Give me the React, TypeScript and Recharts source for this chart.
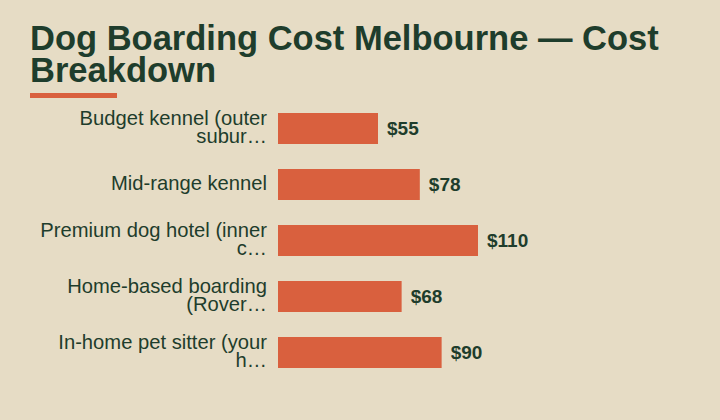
import React from 'react';
import { BarChart, Bar, XAxis, YAxis, LabelList } from 'recharts';

const categories = [
  'Budget kennel (outer subur…',
  'Mid-range kennel',
  'Premium dog hotel (inner c…',
  'Home-based boarding (Rover…',
  'In-home pet sitter (your h…',
];
const costs = [55, 78, 110, 68, 90];

const BG = '#e6dcc5';
const INK = '#1e3d2c';
const ACCENT = '#d9603e';

const data = categories.map((name, i) => ({ name, cost: costs[i] }));

// wrap a label into lines of at most maxChars characters
function wrap(label: string, maxChars = 24): string[] {
  const lines: string[] = [];
  let cur = '';
  label.split(' ').forEach((w) => {
    const next = cur ? cur + ' ' + w : w;
    if (next.length > maxChars && cur) {
      lines.push(cur);
      cur = w;
    } else {
      cur = next;
    }
  });
  if (cur) lines.push(cur);
  return lines;
}

const CategoryTick = ({ x, y, payload }: any) => {
  const lines = wrap(payload.value);
  const lh = 18;
  const start = y - ((lines.length - 1) * lh) / 2 + 6;
  return (
    <text
      x={x}
      y={start}
      textAnchor="end"
      fill={INK}
      fontSize={20.2}
      fontFamily="'Liberation Sans', Arial, sans-serif"
    >
      {lines.map((l, i) => (
        <tspan key={i} x={x} y={start + i * lh}>
          {l}
        </tspan>
      ))}
    </text>
  );
};

export default function App() {
  return (
    <div
      style={{
        position: 'fixed',
        left: 0,
        top: 0,
        width: 720,
        height: 420,
        background: BG,
        fontFamily: "'Liberation Sans', Arial, sans-serif",
      }}
    >
      <div
        style={{
          position: 'absolute',
          left: 30,
          top: 22,
          width: 680,
          fontSize: 34.5,
          lineHeight: '32px',
          fontWeight: 700,
          color: INK,
        }}
      >
        Dog Boarding Cost Melbourne — Cost Breakdown
      </div>
      <div
        style={{
          position: 'absolute',
          left: 30,
          top: 93,
          width: 87,
          height: 5,
          background: ACCENT,
        }}
      />
      <div style={{ position: 'absolute', left: 0, top: 0 }}>
        <BarChart
          width={720}
          height={420}
          data={data}
          layout="vertical"
          margin={{ top: 100, right: 222, bottom: 40, left: 0 }}
        >
          <XAxis type="number" domain={[0, 121]} hide />
          <YAxis
            type="category"
            dataKey="name"
            width={278}
            axisLine={false}
            tickLine={false}
            tickSize={0}
            tickMargin={11}
            interval={0}
            tick={<CategoryTick />}
          />
          <Bar dataKey="cost" fill={ACCENT} barSize={31} isAnimationActive={false}>
            <LabelList
              dataKey="cost"
              position="right"
              offset={9}
              formatter={(v: any) => `$${v}`}
              fill={INK}
              fontSize={19}
              fontWeight={700}
              fontFamily="'Liberation Sans', Arial, sans-serif"
            />
          </Bar>
        </BarChart>
      </div>
    </div>
  );
}
